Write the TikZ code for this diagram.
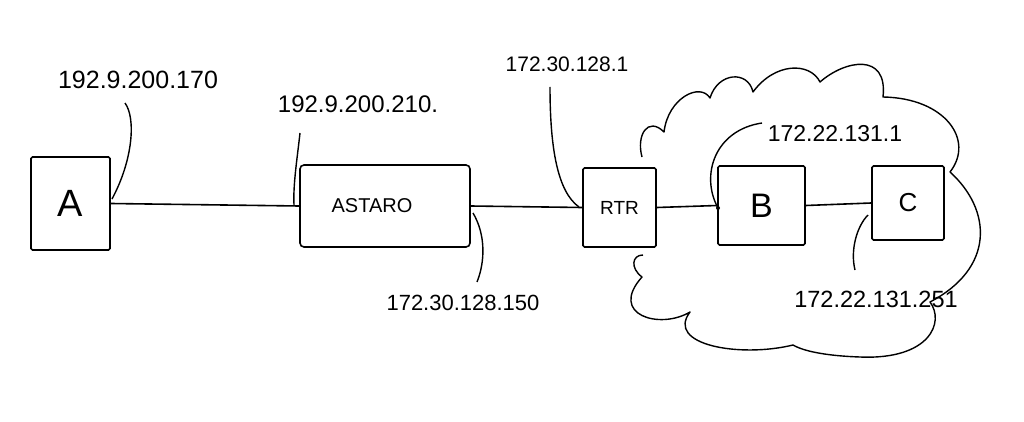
\documentclass[tikz,border=0pt]{standalone}
\usepackage{fontspec}
\setmainfont{Liberation Sans}
\begin{document}
\begin{tikzpicture}[x=1pt,y=-1pt,
  box/.style={draw, line width=1.6pt, inner sep=0pt, rounded corners=1.5pt},
  wire/.style={line width=1.6pt},
  leader/.style={line width=1.4pt},
  addr/.style={inner sep=0pt, font=\fontsize{23}{25}\selectfont},
  cloudline/.style={line width=1.4pt, line join=round}]
\fill[white] (0,0) rectangle (1024,422);
\useasboundingbox (0,0) rectangle (1024,422);

% devices
\node[box, minimum width=79pt, minimum height=93pt] (A) at (70.5,203.5) {\fontsize{38}{40}\selectfont A};
\node[box, minimum width=170pt, minimum height=82pt, rounded corners=4pt] (AST) at (385,206) {\fontsize{20}{22}\selectfont ASTARO\hspace*{26pt}};
\node[box, minimum width=73pt, minimum height=79pt] (RTR) at (619.5,207.5) {\fontsize{19}{21}\selectfont RTR};
\node[box, minimum width=87pt, minimum height=79pt] (B) at (761.5,205.5) {\fontsize{34}{36}\selectfont B};
\node[box, minimum width=72pt, minimum height=74pt] (C) at (908,203) {\fontsize{26}{28}\selectfont C};

% links
\draw[wire] (A.east) -- (AST.west);
\draw[wire] (AST.east) -- (RTR.west);
\draw[wire] (RTR.east) -- (B.west);
\draw[wire] (B.east) -- (C.west);

% address labels
\node[addr, font=\fontsize{25}{27}\selectfont] (tA) at (138,80) {192.9.200.170};
\node[addr, font=\fontsize{24}{26}\selectfont] (tAS1) at (358,104) {192.9.200.210.};
\node[addr, font=\fontsize{22}{24}\selectfont] (tAS2) at (463,303) {172.30.128.150};
\node[addr, font=\fontsize{21}{23}\selectfont] (tR) at (567,64) {172.30.128.1};
\node[addr] (tB) at (835,134) {172.22.131.1};
\node[addr, font=\fontsize{23.5}{25}\selectfont] (tC) at (876,299) {172.22.131.251};

% leader ends
\coordinate (lA0) at (125,103);   \coordinate (lA1) at (112,199);
\coordinate (lS0) at (300,133);   \coordinate (lS1) at (294,205);
\coordinate (lT0) at (473,213);   \coordinate (lT1) at (477,282);
\coordinate (lR0) at (550,87);    \coordinate (lR1) at (579,207);
\coordinate (lB0) at (762,123);   \coordinate (lB1) at (718,208);
\coordinate (lC0) at (868,215);   \coordinate (lC1) at (855,270);

\draw[leader] (lA0) .. controls (136,118) and (133,160) .. (lA1);
\draw[leader] (lS0) .. controls (297,160) and (293,185) .. (lS1);
\draw[leader] (lT0) .. controls (486,235) and (485,262) .. (lT1);
\draw[leader] (lR0) .. controls (550,150) and (558,192) .. (lR1);
\draw[leader] (lB0) .. controls (715,130) and (700,175) .. (lB1);
\draw[leader] (lC0) .. controls (857,226) and (850,250) .. (lC1);
\fill (lB1) circle (2pt);

% cloud
\draw[cloudline] (642,157)
  .. controls (636,135) and (648,116) .. (664,132)
  .. controls (668,98) and (700,82) .. (710,98)
  .. controls (718,72) and (748,70) .. (753,92)
  .. controls (775,62) and (810,62) .. (820,82)
  .. controls (845,60) and (888,52) .. (883,97)
  .. controls (945,98) and (975,140) .. (950,172)
  .. controls (992,210) and (995,268) .. (930,302)
  .. controls (945,322) and (930,360) .. (860,357)
  .. controls (830,356) and (805,352) .. (793,345)
  .. controls (740,358) and (665,345) .. (690,312)
  .. controls (660,330) and (608,315) .. (642,277)
  .. controls (630,268) and (632,255) .. (643,255);
\end{tikzpicture}
\end{document}
